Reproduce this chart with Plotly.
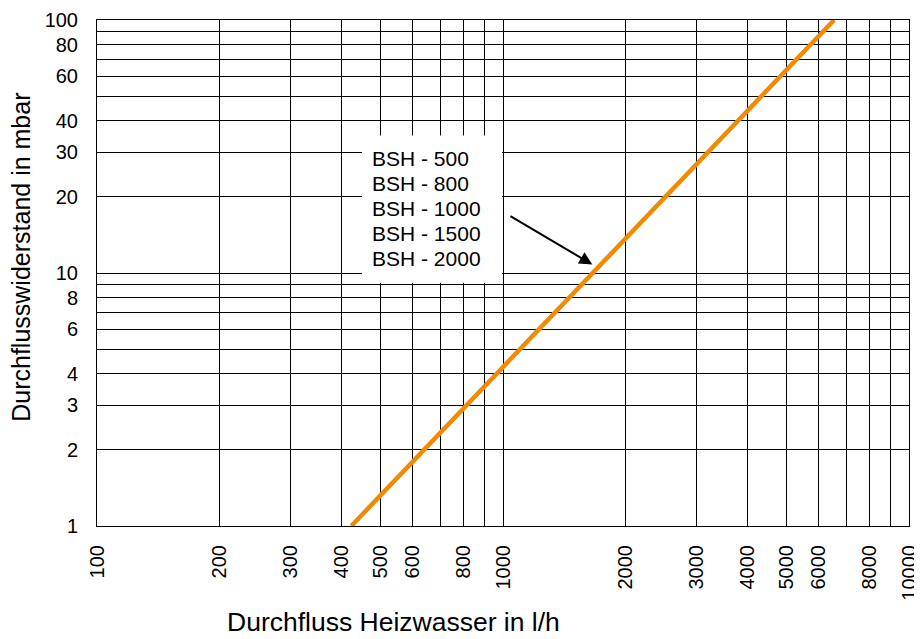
import math
import plotly.graph_objects as go

# ---- data ----
flow = [423, 6540]          # l/h
resistance = [1, 100]       # mbar

x_grid = [100, 200, 300, 400, 500, 600, 700, 800, 900,
          1000, 2000, 3000, 4000, 5000, 6000, 7000, 8000, 9000, 10000]
x_labels = ["100", "200", "300", "400", "500", "600", "", "800", "",
            "1000", "2000", "3000", "4000", "5000", "6000", "", "8000", "", "10000"]
y_grid = [1, 2, 3, 4, 5, 6, 7, 8, 9, 10, 20, 30, 40, 50, 60, 70, 80, 90, 100]
y_labels = ["1", "2", "3", "4", "", "6", "", "8", "", "10",
            "20", "30", "40", "", "60", "", "80", "", "100"]
models = ["BSH - 500", "BSH - 800", "BSH - 1000", "BSH - 1500", "BSH - 2000"]

x_title = "Durchfluss Heizwasser in l/h"
y_title = "Durchflusswiderstand in mbar"

FONT = "Arial, Liberation Sans, sans-serif"

fig = go.Figure()
fig.add_trace(go.Scatter(
    x=flow, y=resistance, mode="lines",
    line=dict(color="#F08A00", width=4.5),
    showlegend=False, hoverinfo="skip"))

axis_common = dict(
    type="log", showline=True, linecolor="black", linewidth=1, mirror=True,
    showgrid=True, gridcolor="black", gridwidth=1, zeroline=False,
    ticks="", tickfont=dict(family=FONT, size=20, color="black"),
    automargin=False,
)

fig.update_xaxes(**axis_common, range=[2, 4], tickvals=x_grid, ticktext=x_labels,
                 tickangle=-90, ticklabelstandoff=10)
fig.update_yaxes(**axis_common, range=[0, 2], tickvals=y_grid, ticktext=y_labels,
                 ticklabelstandoff=14)

# white label box
fig.add_shape(type="rect", xref="paper", yref="paper",
              x0=0.3264, x1=0.4988, y0=0.4807, y1=0.7715,
              fillcolor="white", line=dict(width=0), layer="above")

line_top = 0.727
line_step = 0.0497
for i, m in enumerate(models):
    fig.add_annotation(text=m, xref="paper", yref="paper",
                       x=0.3358, y=line_top - i * line_step,
                       xanchor="left", yanchor="middle", showarrow=False,
                       font=dict(family=FONT, size=21, color="black"))

# arrow
fig.add_annotation(x=math.log10(1660), y=math.log10(10.8), xref="x", yref="y",
                   ax=math.log10(1034), ay=math.log10(16.9), axref="x", ayref="y",
                   text="", showarrow=True, arrowhead=2, arrowsize=1.3,
                   arrowwidth=2, arrowcolor="black")

# axis titles
fig.add_annotation(text=x_title, xref="paper", yref="paper", x=0.365, y=-0.19,
                   xanchor="center", yanchor="middle", showarrow=False,
                   font=dict(family=FONT, size=26.5, color="black"))
fig.add_annotation(text=y_title, xref="paper", yref="paper", x=-0.0936, y=0.532,
                   xanchor="center", yanchor="middle", showarrow=False,
                   textangle=-90, font=dict(family=FONT, size=25, color="black"))

# page body has an 8px margin, so the figure is 8px smaller and shifted
fig.update_layout(
    width=914, height=631,
    margin=dict(l=89, r=13, t=12, b=113),
    plot_bgcolor="white", paper_bgcolor="white",
)

fig.write_html("out.html")
